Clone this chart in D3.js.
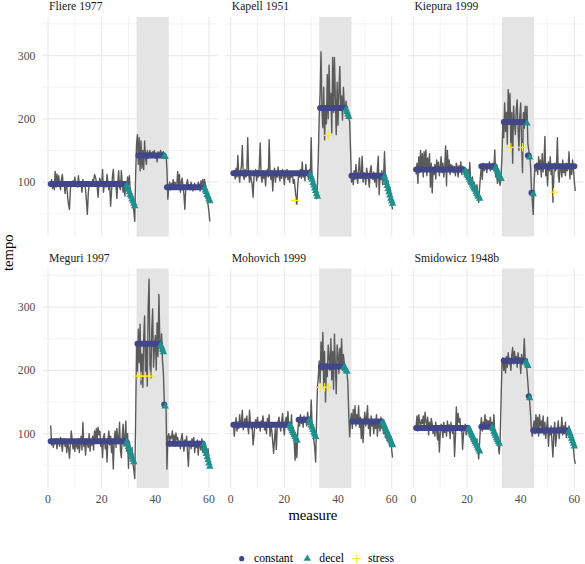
<!DOCTYPE html>
<html><head><meta charset="utf-8">
<script src="https://cdn.jsdelivr.net/npm/d3@7"></script>
<style>
body{margin:0;background:#fff}
svg text{font-family:"Liberation Serif","Times New Roman",Times,"DejaVu Serif",serif}
</style>
</head><body>
<svg id="chart" width="585" height="564" font-family="Liberation Serif, Times New Roman, Times, DejaVu Serif, serif"></svg>
<script>
// ---------------- data ----------------
const performers = ["Fliere 1977","Kapell 1951","Kiepura 1999","Meguri 1997","Mohovich 1999","Smidowicz 1948b"];
const firstMeasure = 1, beatsPerMeasure = 3;

const tempoFliere = [
98,104,90, 100,88,117, 92,113,96, 110,95,88, 104,112,97, 100,82,96, 93,76,64, 57,88,99, 98,102,95, 108,94,100,
92,110,97, 99,97,84, 104,95,100, 88,70,49, 82,96,100, 94,99,104, 100,112,108, 102,92,76, 98,106,100, 94,120,84,
96,100,92, 112,100,88, 96,62,84, 108,120,96, 98,94,74, 100,118,92, 88,118,98, 84,96,78, 100,92,108, 96,110,84,
76,70,62, 54,38,110, 160,175,128, 170,118,165, 122,150,120, 165,140,128, 150,138,146, 150,140,145, 148,142,150, 138,145,132,
148,140,146, 150,142,146, 148,138,145, 143,120,73, 92,100,88, 98,95,104, 90,100,92, 94,117,96, 112,84,100, 106,92,80,
57,90,98, 104,92,96, 88,100,94, 86,92,98, 88,94,92, 100,96,86, 102,98,104, 90,104,96, 84,72,64, 52,38];

const tempoKapell = [
110,118,105, 122,108,142, 112,100,118, 125,158,112, 104,120,108, 116,170,118, 100,112,104, 96,76,108, 115,120,102, 118,108,125,
162,110,100, 118,106,112, 94,114,120, 108,167,115, 104,118,86, 112,122,100, 116,108,124, 110,102,118, 106,120,112, 96,115,108,
120,104,112, 100,116,108, 112,98,104, 90,74,65, 96,112,108, 120,106,132, 108,118,102, 128,112,118, 104,120,108, 170,102,96,
88,92,80, 74,96,140, 205,240,306, 215,186,250, 167,220,192, 270,200,285, 215,240,178, 297,210,297, 232,175,258, 190,245,283,
215,236,198, 250,222,210, 228,204,212, 200,196,150, 100,112,96, 118,104,128, 110,98,120, 138,106,112, 141,100,115, 108,96,122,
112,104,92, 118,126,108, 104,116,100, 112,92,120, 141,80,110, 104,118,96, 112,148,104, 98,90,102, 84,92,76, 64,57];

const tempoKiepura = [
112,130,98, 140,115,150, 120,145,108, 148,125,151, 110,138,118, 145,92,130, 83,120,112, 128,105,135, 118,132,110, 125,140,115,
130,108,122, 157,94,150, 120,135,112, 128,118,126, 115,124,110, 130,122,108, 126,116,132, 112,125,118, 122,110,116, 105,120,98,
131,102,94, 108,88,100, 92,80,96, 84,68,90, 110,125,104, 130,118,122, 128,115,126, 122,132,118, 126,120,130, 118,151,108,
112,98,116, 102,95,110, 140,195,170, 225,180,210, 160,246,200, 240,155,210, 130,220,195, 175,215,230, 185,150,205, 225,160,115,
210,185,220, 200,220,160, 150,142,125, 90,70,49, 100,125,118, 130,112,140, 120,135,108, 145,116,128, 172,110,125, 94,132,118,
140,112,126, 68,108,130, 118,125,170, 112,100,128, 120,108,135, 115,126,110, 130,118,122, 148,105,128, 112,135,120, 100,86];

const tempoMeguri = [
113,82,90, 78,88,84, 92,76,86, 90,80,94, 84,72,88, 92,80,86, 70,88,78, 61,82,104, 90,76,84, 72,88,80,
76,92,70, 84,96,74, 118,80,88, 66,92,84, 78,100,72, 88,82,96, 74,104,86, 108,92,110, 98,104,80, 88,62,94,
100,76,86, 55,90,104, 82,96,70, 86,44,90, 104,78,108, 92,84,118, 74,62,96, 115,80,92, 120,72,100, 45,88,70,
60,78,52, 42,29,120, 240,195,265, 212,273,178, 226,173,250, 286,190,240, 175,300,344, 210,188,262, 297,205,236, 255,200,275,
222,320,248, 230,258,215, 196,150,146, 142,44,95, 100,88,96, 92,104,86, 98,80,101, 90,94,84, 88,76,92, 100,84,72,
90,82,96, 70,48,84, 88,76,92, 80,94,70, 84,78,90, 66,88,80, 74,92,70, 84,68,80, 72,62,76, 58,55];

const tempoMohovich = [
118,96,112, 125,104,118, 108,130,112, 120,137,106, 115,124,110, 128,112,100, 137,118,108, 112,82,96, 115,122,108, 126,110,118,
104,120,112, 128,116,106, 118,100,124, 110,130,96, 114,104,86, 69,92,110, 75,108,118, 126,112,104, 120,132,110, 98,118,126,
112,135,108, 118,104,130, 96,110,88, 58,92,62, 104,120,112, 130,116,124, 110,128,118, 122,112,134, 118,126,110, 153,115,100,
90,76,55, 120,173,190, 215,180,245, 200,260,175, 230,150,210, 190,240,220, 200,250,185, 230,170,257, 210,163,240, 225,195,235,
208,250,200, 225,212,205, 200,196,180, 130,95,120, 132,108,138, 120,144,112, 130,118,144, 110,126,92, 122,86,118, 134,112,126,
144,108,120, 96,128,112, 116,100,122, 108,130,96, 118,112,104, 126,108,116, 100,118,94, 110,88,104, 92,80,96, 74,62];

const tempoSmidowicz = [
112,128,104, 130,118,110, 122,116,128, 108,134,120, 112,126,98, 118,106,124, 115,100,110, 96,118,104, 90,112,71, 100,115,108,
94,118,102, 110,96,120, 104,114,92, 118,106,100, 112,64,96, 142,110,132, 118,124,104, 112,75,100, 108,115,98, 110,104,112,
96,108,90, 100,84,96, 88,80,92, 74,60,86, 110,125,104, 118,112,130, 108,122,114, 120,110,126, 112,118,104, 130,100,92,
98,88,80, 68,90,150, 210,220,200, 215,196,222, 205,228,210, 218,200,225, 236,210,230, 215,222,205, 228,212,220, 195,225,210,
218,250,215, 208,200,180, 160,150,130, 104,96,110, 120,100,130, 108,126,96, 130,112,120, 104,128,98, 118,92,110, 126,80,104,
98,112,86, 63,100,118, 80,96,108, 120,92,110, 104,126,98, 112,100,118, 94,108,100, 112,96,104, 90,84,76, 60,52];

const tempoSeries = [tempoFliere, tempoKapell, tempoKiepura, tempoMeguri, tempoMohovich, tempoSmidowicz];

// constant segments: [panel, fromMeasure, toMeasure, tempo]
const constantSegments = [
[0,1,29,97],[0,33.67,43,142],[0,44.33,58,92],
[1,1,29.33,114],[1,33.33,42.67,217],[1,45,57,110],
[2,1,18.67,120],[2,25.33,30.33,125],[2,33.67,41.67,195],[2,42.67,43,142],[2,44,44.33,83],[2,46,60,125],
[3,1,29,88],[3,33.33,41.67,242],[3,43.33,43.33,146],[3,45,57.67,84],
[4,1,21.67,114],[4,25.33,29,122],[4,33.67,42,206],[4,45.33,56.33,119],
[5,1,20.33,109],[5,25.33,28.67,111],[5,33.67,41.67,215],[5,43,43,159],[5,44.67,57.67,105]
];

// decel points: [panel, measure, tempo]
const decelPoints = [
[0,29.33,95],[0,29.67,91],[0,30,88],[0,30.33,84],[0,30.67,80],[0,31,77],[0,31.33,73],[0,31.67,70],[0,32,66],[0,32.33,62],
[0,43.33,141],[0,43.67,140],
[0,58.33,91],[0,58.67,87],[0,59,84],[0,59.33,80],[0,59.67,77],[0,60,73],[0,60.33,70],
[1,29.67,112],[1,30,108],[1,30.33,104],[1,30.67,99],[1,31,95],[1,31.33,90],[1,31.67,86],[1,32,81],[1,32.33,77],
[1,43,215],[1,43.33,211],[1,43.67,207],[1,44,203],
[1,57.33,109],[1,57.67,104],[1,58,99],[1,58.33,94],[1,58.67,89],[1,59,84],[1,59.33,79],[1,59.67,74],[1,60,70],[1,60.33,66],
[2,19.33,118],[2,19.67,115],[2,20,112],[2,20.33,110],[2,20.67,107],[2,21,104],[2,21.33,101],[2,21.67,99],[2,22,96],
[2,22.33,93],[2,22.67,90],[2,23,88],[2,23.33,85],[2,23.67,82],[2,24,79],[2,24.33,77],[2,24.67,74],
[2,30.67,123],[2,31,120],[2,31.33,117],[2,31.67,114],[2,32,111],[2,32.33,108],[2,32.67,105],
[2,42.33,193],[2,43.33,139],[2,44.67,81],
[3,29.33,87],[3,29.67,83],[3,30,79],[3,30.33,75],[3,30.67,71],[3,31,67],[3,31.33,63],[3,31.67,59],[3,32,55],
[3,42,240],[3,42.33,237],[3,42.67,233],[3,43,229],
[3,43.67,143],
[3,58,83],[3,58.33,78],[3,58.67,73],[3,59,68],[3,59.33,63],[3,59.67,58],[3,60,53],[3,60.33,48],
[4,22,113],[4,22.33,110],[4,22.67,107],[4,23,104],[4,23.33,101],[4,23.67,98],[4,24,95],[4,24.33,92],[4,24.67,89],
[4,29.33,121],[4,29.67,117],[4,30,113],[4,30.33,110],[4,30.67,106],[4,31,102],[4,31.33,99],[4,31.67,95],
[4,42.33,205],[4,42.67,203],[4,43,200],[4,43.33,198],
[4,56.67,118],[4,57,115],[4,57.33,112],[4,57.67,108],[4,58,105],[4,58.33,102],[4,58.67,98],[4,59,95],[4,59.33,92],[4,59.67,88],[4,60,85],[4,60.33,82],
[5,20.67,108],[5,21,105],[5,21.33,102],[5,21.67,99],[5,22,96],[5,22.33,93],[5,22.67,90],[5,23,87],[5,23.33,84],[5,23.67,81],[5,24,78],[5,24.33,75],[5,24.67,72],
[5,29.33,110],[5,29.67,107],[5,30,103],[5,30.33,100],[5,30.67,97],[5,31,93],[5,31.33,90],[5,31.67,87],[5,32,84],
[5,42,213],[5,42.33,210],[5,42.67,207],
[5,43.33,156],
[5,58,104],[5,58.33,100],[5,58.67,96],[5,59,92],[5,59.33,88],[5,59.67,84],[5,60,80]
];

// stress points: [panel, measure, tempo]
const stressPoints = [
[1,24,71],[1,36.33,174],
[2,36.33,155],[2,40.67,155],[2,52.33,84],
[3,33.33,191],[3,34.67,191],[3,36.33,191],[3,38,191],
[4,33.67,173],[4,35,173],[4,36.33,173]
];

const shadeRange = [33, 45];
const xTicks = [0,20,40,60], xMinor = [10,30,50];
const yTicks = [100,200,300], yMinor = [50,150,250,350];
const legendLabels = ["constant","decel","stress"];

// ---------------- drawing ----------------
const FONT = "'Liberation Serif', 'Times New Roman', Times, 'DejaVu Serif', serif";
const colors = {constant:"#404688", decel:"#21908C", stress:"#FDE725"};
const svg = d3.select("#chart");
const W = 175, H = 219.5;
const lefts = [42.7, 225.4, 408.1], tops = [17, 268.5];
const x = d3.scaleLinear().domain([-1.98, 63.25]).range([0, W]);
const y = d3.scaleLinear().domain([14, 361]).range([H, 0]);
const tri = d3.symbol().type(d3.symbolTriangle).size(24);

performers.forEach((name, p) => {
  const col = p % 3, row = Math.floor(p / 3);
  const g = svg.append("g").attr("transform", `translate(${lefts[col]},${tops[row]})`);

  // grid
  g.selectAll(".ymin").data(yMinor).join("line")
    .attr("x1",0).attr("x2",W).attr("y1",d=>y(d)).attr("y2",d=>y(d))
    .attr("stroke","#ebebeb").attr("stroke-width",0.6);
  g.selectAll(".xmin").data(xMinor).join("line")
    .attr("y1",0).attr("y2",H).attr("x1",d=>x(d)).attr("x2",d=>x(d))
    .attr("stroke","#ebebeb").attr("stroke-width",0.6);
  g.selectAll(".ymaj").data(yTicks).join("line")
    .attr("x1",0).attr("x2",W).attr("y1",d=>y(d)).attr("y2",d=>y(d))
    .attr("stroke","#ebebeb").attr("stroke-width",1.2);
  g.selectAll(".xmaj").data(xTicks).join("line")
    .attr("y1",0).attr("y2",H).attr("x1",d=>x(d)).attr("x2",d=>x(d))
    .attr("stroke","#ebebeb").attr("stroke-width",1.2);

  // shaded region
  g.append("rect").attr("x", x(shadeRange[0])).attr("width", x(shadeRange[1]) - x(shadeRange[0]))
    .attr("y", 0).attr("height", H).attr("fill", "#e4e4e4");

  // tempo line
  const series = tempoSeries[p].map((v, i) => ({m: firstMeasure + i / beatsPerMeasure, v}));
  g.append("path").datum(series)
    .attr("d", d3.line().x(d => x(d.m)).y(d => y(d.v)))
    .attr("fill","none").attr("stroke","#5a5a5a").attr("stroke-width",1.4).attr("stroke-linejoin","round");

  // constant segments (dense circles)
  g.selectAll(".const").data(constantSegments.filter(d => d[0] === p)).join("path")
    .attr("d", d => `M${x(d[1])},${y(d[3])}L${x(d[2])},${y(d[3])}`)
    .attr("stroke", colors.constant).attr("stroke-width", 6).attr("stroke-linecap","round").attr("fill","none");

  // decel triangles
  g.selectAll(".decel").data(decelPoints.filter(d => d[0] === p)).join("path")
    .attr("d", tri).attr("transform", d => `translate(${x(d[1])},${y(d[2])})`)
    .attr("fill", colors.decel);

  // stress crosses
  g.selectAll(".stress").data(stressPoints.filter(d => d[0] === p)).join("path")
    .attr("d", d => { const cx = x(d[1]), cy = y(d[2]), r = 4.3;
      return `M${cx-r},${cy}L${cx+r},${cy}M${cx},${cy-r}L${cx},${cy+r}`; })
    .attr("stroke", colors.stress).attr("stroke-width", 1.2).attr("fill","none");

  // strip title
  g.append("text").attr("x", 6.3).attr("y", -6.8).text(name)
    .attr("font-family", FONT).attr("font-size", 11.7).attr("fill", "#1a1a1a");

  // y axis labels (left column)
  if (col === 0) {
    g.selectAll(".yl").data(yTicks).join("text")
      .attr("x", -7.3).attr("y", d => y(d)).attr("dy","0.35em").attr("text-anchor","end")
      .attr("font-family", FONT).attr("font-size", 11.7).attr("fill","#4d4d4d").text(d => d);
  }
  // x axis labels (bottom row)
  if (row === 1) {
    g.selectAll(".xl").data(xTicks).join("text")
      .attr("x", d => x(d)).attr("y", H + 15).attr("text-anchor","middle")
      .attr("font-family", FONT).attr("font-size", 11.7).attr("fill","#4d4d4d").text(d => d);
  }
});

// axis titles
svg.append("text").attr("x", 312.9).attr("y", 520).attr("text-anchor","middle")
  .attr("font-family", FONT).attr("font-size", 14.7).attr("fill","#000").text("measure");
svg.append("text").attr("transform","translate(12.5,252.7) rotate(-90)").attr("text-anchor","middle")
  .attr("font-family", FONT).attr("font-size", 14.7).attr("fill","#000").text("tempo");

// legend
const legX = [241.7, 307.3, 356.7], legTextX = [254, 319.3, 368], legY = 558.7;
const leg = svg.append("g");
leg.append("circle").attr("cx", legX[0]).attr("cy", legY).attr("r", 2.6).attr("fill", colors.constant);
leg.append("path").attr("d", tri).attr("transform", `translate(${legX[1]},${legY})`).attr("fill", colors.decel);
leg.append("path").attr("d", `M${legX[2]-4.3},${legY}L${legX[2]+4.3},${legY}M${legX[2]},${legY-4.3}L${legX[2]},${legY+4.3}`)
  .attr("stroke", colors.stress).attr("stroke-width", 1.2);
legendLabels.forEach((t, i) => {
  leg.append("text").attr("x", legTextX[i]).attr("y", legY).attr("dy","0.32em")
    .attr("font-family", FONT).attr("font-size", 11.7).attr("fill","#000").text(t);
});
</script>
</body></html>
